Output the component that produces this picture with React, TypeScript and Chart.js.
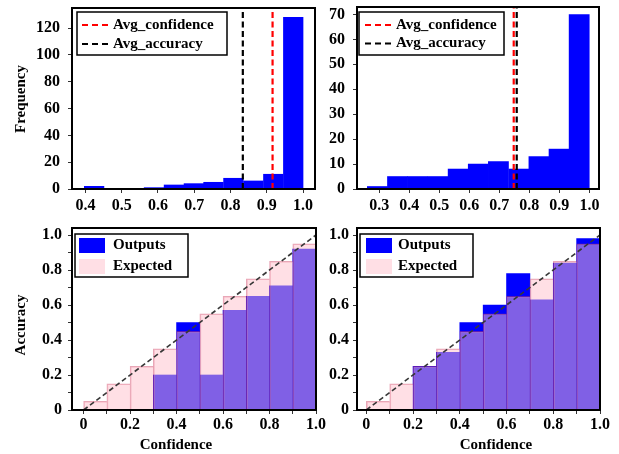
import React, { useEffect, useRef } from "react";
import { Chart, registerables } from "chart.js";

Chart.register(...registerables);

// ---------- Data: top-left confidence histogram ----------
const histLeftBinCenters = [0.424, 0.479, 0.534, 0.589, 0.644, 0.699, 0.753, 0.808, 0.863, 0.918, 0.973];
const histLeftCounts = [2, 0, 0, 1, 3, 4, 5, 8, 6, 11, 128];
const histLeftAvgConfidence = 0.916;
const histLeftAvgAccuracy = 0.834;
const histLeftXTicks = [0.4, 0.5, 0.6, 0.7, 0.8, 0.9, 1.0];
const histLeftYTicks = [0, 20, 40, 60, 80, 100, 120];

// ---------- Data: top-right confidence histogram ----------
const histRightBinCenters = [0.294, 0.361, 0.428, 0.496, 0.563, 0.63, 0.697, 0.765, 0.832, 0.899, 0.966];
const histRightCounts = [1, 5, 5, 5, 8, 10, 11, 8, 13, 16, 70];
const histRightAvgConfidence = 0.748;
const histRightAvgAccuracy = 0.758;
const histRightXTicks = [0.3, 0.4, 0.5, 0.6, 0.7, 0.8, 0.9, 1.0];
const histRightYTicks = [0, 10, 20, 30, 40, 50, 60, 70];

// ---------- Data: reliability diagrams ----------
const relBinCenters = [0.05, 0.15, 0.25, 0.35, 0.45, 0.55, 0.65, 0.75, 0.85, 0.95];
const relLeftOutputs = [0, 0, 0, 0.2, 0.5, 0.2, 0.57, 0.65, 0.71, 0.92];
const relLeftExpected = [0.05, 0.15, 0.25, 0.35, 0.45, 0.55, 0.65, 0.75, 0.85, 0.95];
const relRightOutputs = [0, 0, 0.25, 0.33, 0.5, 0.6, 0.78, 0.63, 0.84, 0.98];
const relRightExpected = [0.05, 0.15, 0.25, 0.35, 0.45, 0.55, 0.65, 0.75, 0.85, 0.95];
const relTickValues = [0, 0.1, 0.2, 0.3, 0.4, 0.5, 0.6, 0.7, 0.8, 0.9, 1.0];
const relTickLabels = [0, 0.2, 0.4, 0.6, 0.8, 1.0];
const diagonalLine = [0, 1];

// ---------- Style ----------
const PAGE_W = 619;
const PAGE_H = 454;
const SERIF = '"Liberation Serif", "Times New Roman", serif';
const TICK_FONT = { family: SERIF, size: 16, weight: "bold" as const };
const BLUE = "rgb(0,0,255)";
const PINK = "rgba(255,192,203,0.5)";
const PINK_EDGE = "rgba(205,60,95,0.45)";
const RED = "rgb(255,0,0)";
const BLACK = "rgb(0,0,0)";
const DASH = [6, 3.5];

type Frame = { l: number; t: number; r: number; b: number };

function axis(
  min: number,
  max: number,
  tickVals: number[],
  labelVals: number[],
  fmt: (v: number) => string,
  pad: number,
  size: number,
  horizontal: boolean
) {
  return {
    type: "linear",
    min,
    max,
    offset: false,
    grid: {
      display: true,
      drawOnChartArea: false,
      drawTicks: true,
      tickLength: 4,
      color: "#333",
      tickColor: "#333",
      offset: false,
    },
    border: { display: false },
    ticks: {
      autoSkip: false,
      maxRotation: 0,
      minRotation: 0,
      padding: pad,
      color: "#000",
      font: TICK_FONT,
      callback: (v: number) => (labelVals.some((l) => Math.abs(l - v) < 1e-9) ? fmt(v) : ""),
    },
    afterBuildTicks: (s: any) => {
      s.ticks = tickVals.map((v) => ({ value: v }));
    },
    afterFit: (s: any) => {
      if (horizontal) s.height = size;
      else s.width = size;
      s.paddingLeft = 0;
      s.paddingRight = 0;
      s.paddingTop = 0;
      s.paddingBottom = 0;
    },
  };
}

function baseOptions(frame: Frame, yW: number, xH: number, x: any, y: any) {
  return {
    responsive: false,
    animation: false,
    devicePixelRatio: 1,
    events: [],
    layout: {
      padding: {
        left: frame.l - yW,
        top: frame.t,
        right: PAGE_W - frame.r,
        bottom: PAGE_H - frame.b - xH,
      },
    },
    plugins: {
      legend: { display: false },
      tooltip: { enabled: false },
      title: { display: false },
    },
    scales: { x, y },
  };
}

type LegendItem = { text: string; kind: "line" | "patch"; color: string; dash?: number[] };
type Decor = {
  legend: { dx: number; dy: number; w: number; h: number; rows: number[]; sample: [number, number]; textX: number; items: LegendItem[] };
  yTitle?: { text: string; dx: number; dy: number };
  xTitle?: { text: string; dx: number; dy: number };
};

function decorPlugin(d: Decor) {
  return {
    id: "decor",
    afterDatasetsDraw(chart: any) {
      const { ctx, chartArea: a } = chart;
      ctx.save();
      ctx.setLineDash([]);
      ctx.lineWidth = 2;
      ctx.strokeStyle = "#000";
      ctx.strokeRect(a.left, a.top, a.right - a.left, a.bottom - a.top);

      const L = d.legend;
      const bx = a.left + L.dx;
      const by = a.top + L.dy;
      ctx.fillStyle = "#fff";
      ctx.fillRect(bx, by, L.w, L.h);
      ctx.lineWidth = 1.5;
      ctx.strokeStyle = "#000";
      ctx.strokeRect(bx, by, L.w, L.h);
      ctx.font = `bold 15px ${SERIF}`;
      ctx.textBaseline = "middle";
      ctx.textAlign = "left";
      L.items.forEach((it, i) => {
        const cy = by + L.rows[i];
        if (it.kind === "line") {
          ctx.beginPath();
          ctx.setLineDash(it.dash || []);
          ctx.lineWidth = 2.2;
          ctx.strokeStyle = it.color;
          ctx.moveTo(bx + L.sample[0], cy);
          ctx.lineTo(bx + L.sample[1], cy);
          ctx.stroke();
          ctx.setLineDash([]);
        } else {
          ctx.fillStyle = it.color;
          ctx.fillRect(bx + L.sample[0], cy - 7.5, L.sample[1] - L.sample[0], 15);
        }
        ctx.fillStyle = "#000";
        ctx.fillText(it.text, bx + L.textX, cy);
      });

      ctx.font = `bold 15px ${SERIF}`;
      ctx.fillStyle = "#000";
      ctx.textAlign = "center";
      ctx.textBaseline = "middle";
      if (d.xTitle) {
        ctx.fillText(d.xTitle.text, a.left + d.xTitle.dx, a.bottom + d.xTitle.dy);
      }
      if (d.yTitle) {
        ctx.save();
        ctx.translate(a.left + d.yTitle.dx, a.top + d.yTitle.dy);
        ctx.rotate(-Math.PI / 2);
        ctx.fillText(d.yTitle.text, 0, 0);
        ctx.restore();
      }
      ctx.restore();
    },
  };
}

const fmt1 = (v: number) => v.toFixed(1);
const fmtInt = (v: number) => String(Math.round(v));
const fmtRel = (v: number) => (v === 0 ? "0" : v.toFixed(1));

function histConfig(p: {
  frame: Frame;
  centers: number[];
  counts: number[];
  avgConf: number;
  avgAcc: number;
  xTicks: number[];
  yTicks: number[];
  xMin: number;
  xMax: number;
  yMax: number;
  yW: number;
  yPad: number;
  decor: Decor;
}) {
  const xH = 30;
  return {
    type: "bar",
    data: {
      datasets: [
        {
          type: "line",
          label: "Avg_confidence",
          data: [
            { x: p.avgConf, y: 0 },
            { x: p.avgConf, y: p.yMax },
          ],
          borderColor: RED,
          borderWidth: 2.2,
          borderDash: DASH,
          pointRadius: 0,
          fill: false,
          order: 0,
        },
        {
          type: "line",
          label: "Avg_accuracy",
          data: [
            { x: p.avgAcc, y: 0 },
            { x: p.avgAcc, y: p.yMax },
          ],
          borderColor: BLACK,
          borderWidth: 2.2,
          borderDash: DASH,
          pointRadius: 0,
          fill: false,
          order: 0,
        },
        {
          type: "bar",
          label: "Frequency",
          data: p.centers.map((c, i) => ({ x: c, y: p.counts[i] })),
          backgroundColor: BLUE,
          borderWidth: 0,
          barPercentage: 1,
          categoryPercentage: 1,
          grouped: false,
          order: 1,
        },
      ],
    },
    options: baseOptions(
      p.frame,
      p.yW,
      xH,
      axis(p.xMin, p.xMax, p.xTicks, p.xTicks, fmt1, 3, xH, true),
      axis(0, p.yMax, p.yTicks, p.yTicks, fmtInt, p.yPad, p.yW, false)
    ),
    plugins: [decorPlugin(p.decor)],
  };
}

function relConfig(p: {
  frame: Frame;
  outputs: number[];
  expected: number[];
  xMin: number;
  yW: number;
  yPad: number;
  decor: Decor;
}) {
  const xH = PAGE_H - p.frame.b;
  return {
    type: "bar",
    data: {
      datasets: [
        {
          type: "line",
          label: "Perfect calibration",
          data: diagonalLine.map((v) => ({ x: v, y: v })),
          borderColor: "rgba(55,55,55,1)",
          borderWidth: 1.6,
          borderDash: [5, 3],
          pointRadius: 0,
          fill: false,
          order: 0,
        },
        {
          type: "bar",
          label: "Outputs",
          data: relBinCenters.map((c, i) => ({ x: c, y: p.outputs[i] })),
          backgroundColor: BLUE,
          borderWidth: 0,
          barPercentage: 1,
          categoryPercentage: 1,
          grouped: false,
          order: 2,
        },
        {
          type: "bar",
          label: "Expected",
          data: relBinCenters.map((c, i) => ({ x: c, y: p.expected[i] })),
          backgroundColor: PINK,
          borderColor: PINK_EDGE,
          borderWidth: { top: 1, left: 1, right: 0, bottom: 0 },
          barPercentage: 1,
          categoryPercentage: 1,
          grouped: false,
          order: 1,
        },
      ],
    },
    options: baseOptions(
      p.frame,
      p.yW,
      xH,
      axis(p.xMin, 1.0, relTickValues, relTickLabels, fmtRel, 1, xH, true),
      axis(0, 1.04, relTickValues, relTickLabels, fmtRel, p.yPad, p.yW, false)
    ),
    plugins: [decorPlugin(p.decor)],
  };
}

const histLegendItems: LegendItem[] = [
  { text: "Avg_confidence", kind: "line", color: RED, dash: [6, 4] },
  { text: "Avg_accuracy", kind: "line", color: BLACK, dash: [6, 4] },
];
const relLegendItems: LegendItem[] = [
  { text: "Outputs", kind: "patch", color: BLUE },
  { text: "Expected", kind: "patch", color: PINK },
];

const makeTopLeft = () =>
  histConfig({
    frame: { l: 72, t: 8, r: 315, b: 189 },
    centers: histLeftBinCenters,
    counts: histLeftCounts,
    avgConf: histLeftAvgConfidence,
    avgAcc: histLeftAvgAccuracy,
    xTicks: histLeftXTicks,
    yTicks: histLeftYTicks,
    xMin: 0.363,
    xMax: 1.033,
    yMax: 135,
    yW: 72,
    yPad: 8,
    decor: {
      legend: { dx: 5, dy: 4, w: 150, h: 43, rows: [13, 32], sample: [5, 31], textX: 36, items: histLegendItems },
      yTitle: { text: "Frequency", dx: -51, dy: 91 },
    },
  });

const makeTopRight = () =>
  histConfig({
    frame: { l: 357, t: 7, r: 599, b: 189 },
    centers: histRightBinCenters,
    counts: histRightCounts,
    avgConf: histRightAvgConfidence,
    avgAcc: histRightAvgAccuracy,
    xTicks: histRightXTicks,
    yTicks: histRightYTicks,
    xMin: 0.226,
    xMax: 1.032,
    yMax: 73,
    yW: 40,
    yPad: 8,
    decor: {
      legend: { dx: 2, dy: 5, w: 145, h: 43, rows: [13, 31.5], sample: [6, 32], textX: 37, items: histLegendItems },
    },
  });

const makeBottomLeft = () =>
  relConfig({
    frame: { l: 72, t: 228, r: 316, b: 410 },
    outputs: relLeftOutputs,
    expected: relLeftExpected,
    xMin: -0.05,
    yW: 72,
    yPad: 6,
    decor: {
      legend: { dx: 3, dy: 6, w: 113, h: 43, rows: [11.5, 32.5], sample: [4, 30], textX: 38, items: relLegendItems },
      yTitle: { text: "Accuracy", dx: -51, dy: 97 },
      xTitle: { text: "Confidence", dx: 104, dy: 35 },
    },
  });

const makeBottomRight = () =>
  relConfig({
    frame: { l: 357, t: 228, r: 600, b: 410 },
    outputs: relRightOutputs,
    expected: relRightExpected,
    xMin: -0.04,
    yW: 40,
    yPad: 4,
    decor: {
      legend: { dx: 3, dy: 6, w: 113, h: 43, rows: [11.5, 32.5], sample: [6, 32], textX: 38, items: relLegendItems },
      xTitle: { text: "Confidence", dx: 139, dy: 35 },
    },
  });

function ChartLayer({ make }: { make: () => any }) {
  const ref = useRef<HTMLCanvasElement | null>(null);
  useEffect(() => {
    if (!ref.current) return;
    const chart = new Chart(ref.current, make());
    return () => chart.destroy();
  }, [make]);
  return (
    <canvas
      ref={ref}
      width={PAGE_W}
      height={PAGE_H}
      style={{ position: "absolute", left: 0, top: 0, width: PAGE_W, height: PAGE_H }}
    />
  );
}

export default function App() {
  return (
    <div
      style={{
        position: "fixed",
        left: 0,
        top: 0,
        width: PAGE_W,
        height: PAGE_H,
        background: "#fff",
        overflow: "hidden",
      }}
    >
      <ChartLayer make={makeTopLeft} />
      <ChartLayer make={makeTopRight} />
      <ChartLayer make={makeBottomLeft} />
      <ChartLayer make={makeBottomRight} />
    </div>
  );
}
